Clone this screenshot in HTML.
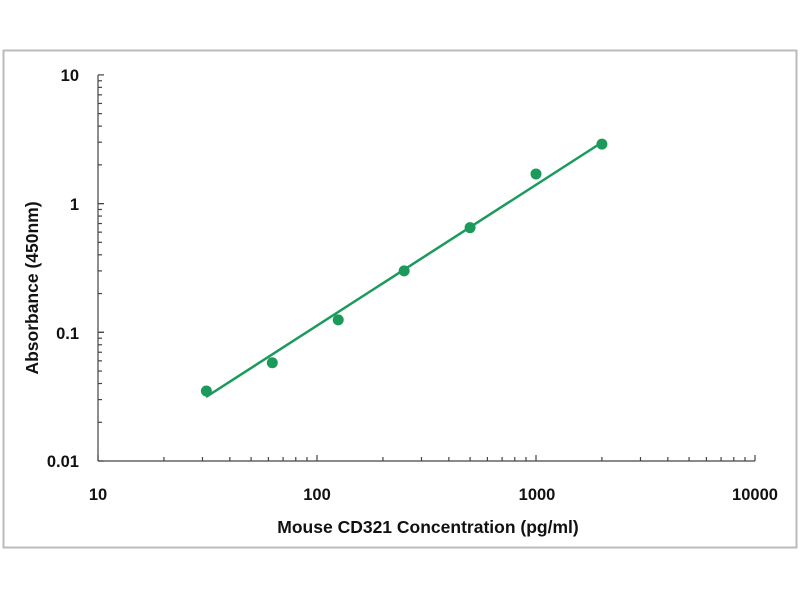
<!DOCTYPE html>
<html><head><style>
body{margin:0;background:#fff;width:800px;height:600px;overflow:hidden}
text{font-family:"Liberation Sans",Arial,sans-serif;font-weight:bold;fill:#111}
</style></head><body>
<svg width="800" height="600" xmlns="http://www.w3.org/2000/svg">
<rect x="3.5" y="50.5" width="793" height="497" fill="none" stroke="#bbb" stroke-width="2"/>
<g id="ax" stroke="#444" stroke-width="1.2" fill="none"></g>
<g font-size="16.5" text-anchor="end">
<text x="79" y="81">10</text><text x="79" y="210">1</text><text x="79" y="339">0.1</text><text x="79" y="467">0.01</text>
</g>
<g font-size="16.5" text-anchor="middle">
<text x="98" y="500">10</text><text x="317" y="500">100</text><text x="537" y="500">1000</text><text x="755" y="500">10000</text>
<text x="428" y="533" font-size="17.5">Mouse CD321 Concentration (pg/ml)</text>
<text transform="translate(38,288) rotate(-90)" font-size="17.5">Absorbance (450nm)</text>
</g>
<line x1="206" y1="397" x2="601" y2="143" stroke="#1b9a5c" stroke-width="2.5"/>
<g id="pts" fill="#1b9a5c"></g>
</svg>
<script>
var ax=document.getElementById('ax'),s='';
function X(v){return 98+219*Math.log10(v/10)}
function Y(v){return 461-128.7*(Math.log10(v)+2)}
s+='<line x1="98" y1="75" x2="98" y2="461"/><line x1="98" y1="461" x2="755" y2="461"/>';
for(var d=0;d<3;d++)for(var k=1;k<=10;k++){var v=Math.pow(10,d+1)*k;if(k==1&&d>0)continue;var x=X(v);s+='<line x1="'+x+'" y1="461" x2="'+x+'" y2="'+(k==1||k==10?455:457)+'"/>';}
for(var d=-2;d<1;d++)for(var k=1;k<=10;k++){var v=Math.pow(10,d)*k;var y=Y(v);s+='<line x1="98" y1="'+y+'" x2="'+(k==1||k==10?104:102)+'" y2="'+y+'"/>';}
ax.innerHTML=s;
var p=[[31.25,0.035],[62.5,0.058],[125,0.125],[250,0.3],[500,0.65],[1000,1.7],[2000,2.9]],t='';
p.forEach(function(q){t+='<circle cx="'+X(q[0])+'" cy="'+Y(q[1])+'" r="5.5"/>'});
document.getElementById('pts').innerHTML=t;
</script>
</body></html>
